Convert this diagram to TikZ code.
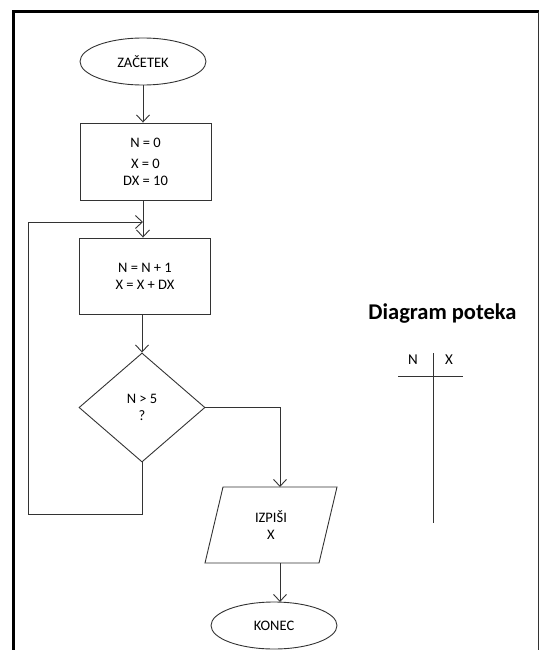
\documentclass[tikz,border=0pt]{standalone}
\usepackage{fontspec}
\setmainfont{Carlito}
\usetikzlibrary{shapes.geometric,arrows.meta}
\begin{document}
\begin{tikzpicture}[x=1pt,y=-1pt,
  line/.style={draw=black!80,line width=0.9pt},
  arr/.style={line,-{Straight Barb[length=7pt,width=13pt,line width=0.9pt]}},
  term/.style={ellipse,line,minimum width=126pt,minimum height=47pt,inner sep=0pt,font=\fontsize{14.5}{17}\selectfont},
  proc/.style={rectangle,line,minimum width=131pt,inner sep=0pt,align=center,font=\fontsize{14.5}{17}\selectfont},
  dec/.style={diamond,line,minimum width=126pt,minimum height=109pt,inner sep=0pt,align=center,font=\fontsize{14.5}{17}\selectfont},
  txt/.style={inner sep=0pt,align=center,font=\fontsize{14.5}{17}\selectfont}]
\useasboundingbox (0,0) rectangle (540,650);
% frame
\draw[line width=3pt,black] (13,650) -- (13,12) -- (539,12);
\draw[line width=1pt,black!80] (538,12) -- (538,650);
% nodes
\node[term] (start) at (143,61.5) {ZAČETEK};
\node[proc,minimum height=77pt] (b1) at (145.5,161.5) {N = 0\\[4pt]X = 0\\DX = 10};
\node[proc,minimum height=76pt] (b2) at (145,276) {N = N + 1\\X = X + DX};
\node[dec] (d) at (142,407.5) {N > 5\\?};
\draw[line] (223,487) -- (337,487) -- (319,563) -- (205,563) -- cycle;
\node[txt] (out) at (271,525) {IZPIŠI\\X};
\node[term] (end) at (274,625.5) {KONEC};
% coordinates
\coordinate (j) at (143,222);
\coordinate (lb) at (28,514);
\coordinate (ot) at (280,487);
\coordinate (ob) at (280,563);
\coordinate (et) at (280,602);
% connectors
\draw[arr] (start.south) -- (start.south |- b1.north);
\draw[arr] (b1.south -| start.south) -- (start.south |- b2.north);
\draw[arr] (b2.south -| d.north) -- (d.north);
\draw[arr] (d.south) |- (lb) |- (j);
\draw[arr] (d.east) -| (ot);
\draw[arr] (ob) -- (et);
% side table
\node[inner sep=0pt,font=\fontsize{22.5}{26}\bfseries\selectfont] (title) at (442.5,314) {Diagram poteka};
\node[txt,font=\fontsize{15}{18}\selectfont] (n) at (413,360) {N};
\node[txt,font=\fontsize{15}{18}\selectfont] (x) at (449,360) {X};
\coordinate (vt) at (433,353);
\coordinate (vb) at (433,523);
\coordinate (hl) at (398,376);
\coordinate (hr) at (463,376);
\draw[line] (vt) -- (vb);
\draw[line] (hl) -- (hr);
\end{tikzpicture}
\end{document}
